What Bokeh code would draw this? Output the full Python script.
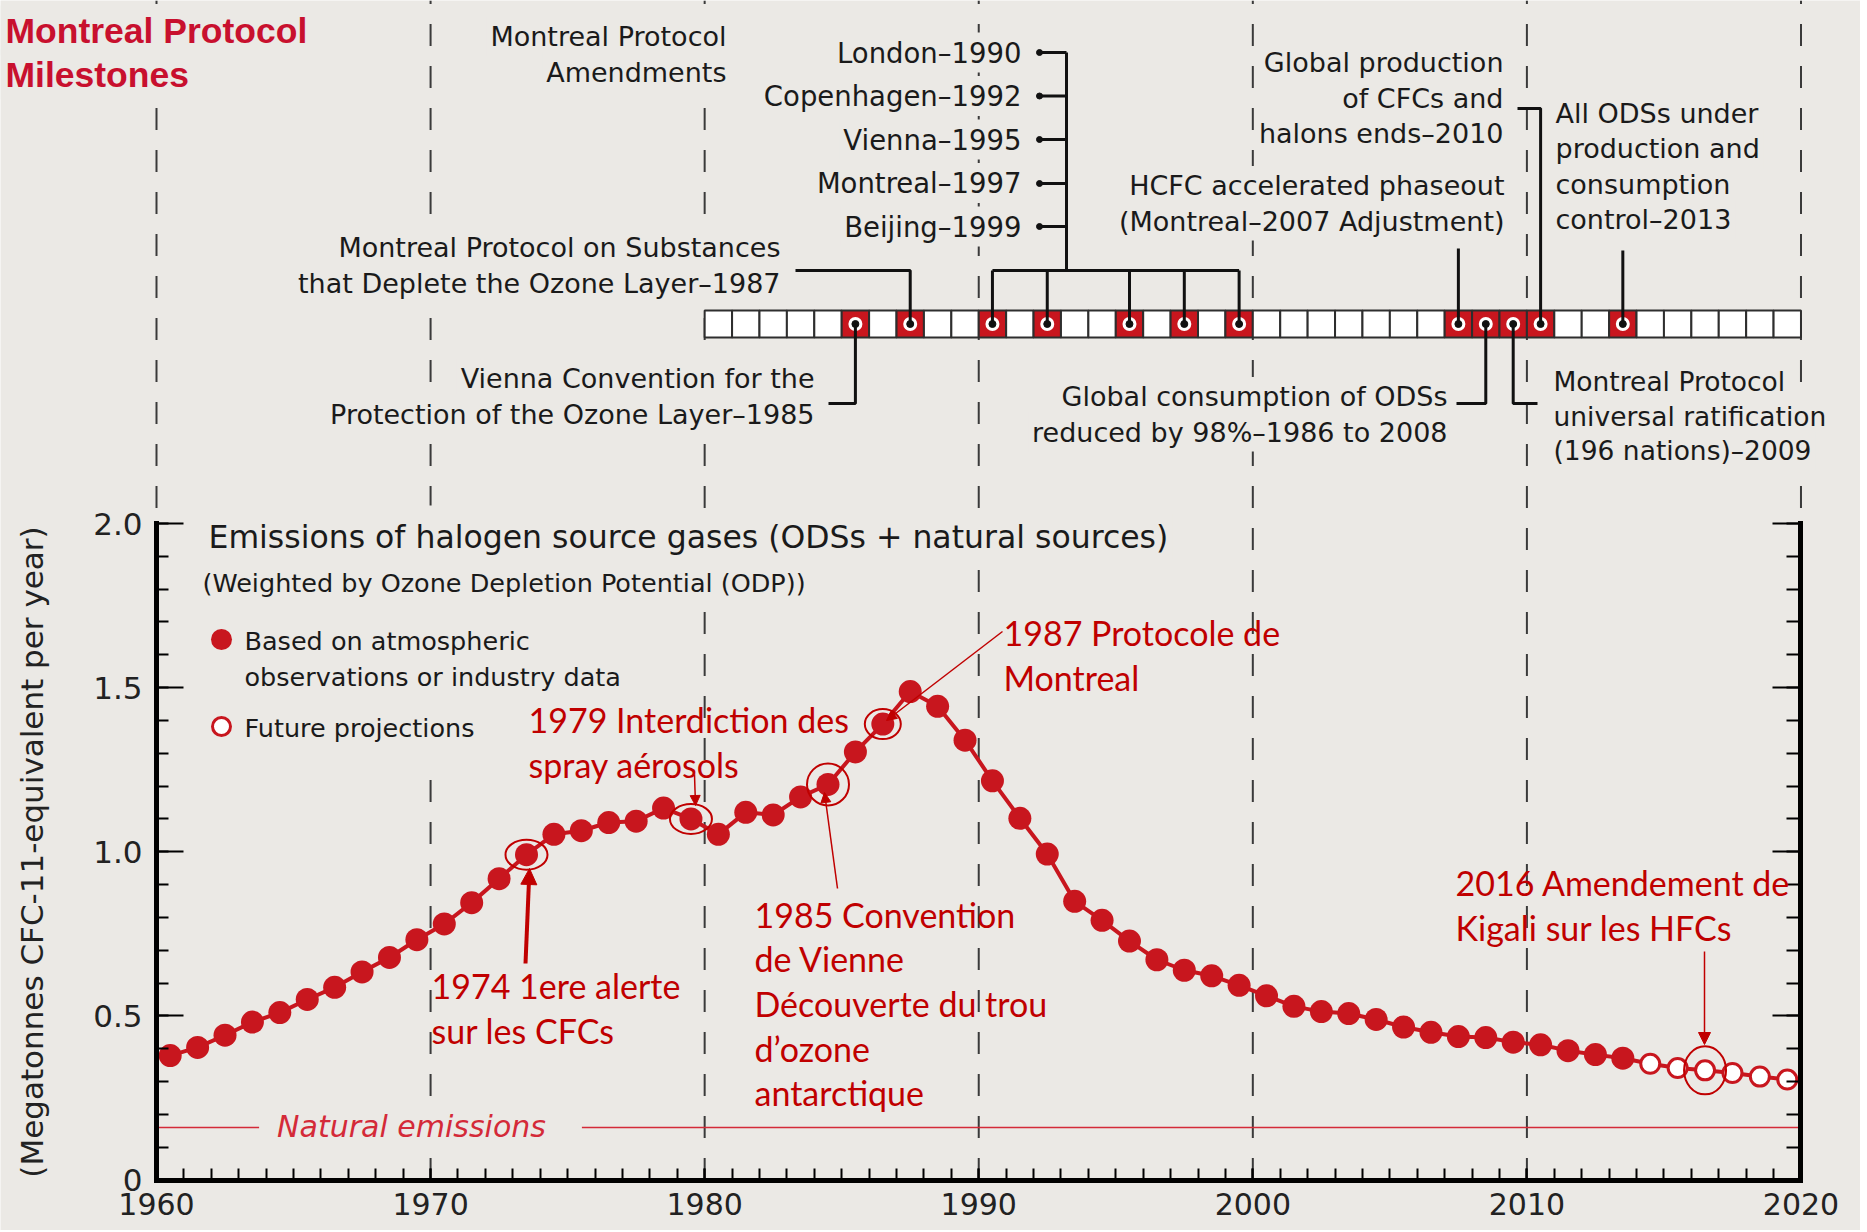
from bokeh.plotting import figure
from bokeh.models import (Range1d, LinearAxis, SingleIntervalTicker, Label, Arrow,
                          NormalHead, CustomJSTickFormatter, CustomLabelingPolicy)
from bokeh.embed import file_html
from bokeh.resources import INLINE

# ---------------- data ----------------
years = list(range(1960, 2020))
observed = [0.379, 0.404, 0.441, 0.481, 0.510, 0.550, 0.587, 0.634, 0.678, 0.732,
            0.780, 0.845, 0.918, 0.991, 1.053, 1.064, 1.089, 1.093, 1.133, 1.100,
            1.053, 1.120, 1.112, 1.167, 1.205, 1.304, 1.389, 1.488, 1.443, 1.340,
            1.216, 1.102, 0.993, 0.849, 0.791, 0.728, 0.671, 0.639, 0.622, 0.593,
            0.561, 0.529, 0.513, 0.507, 0.489, 0.466, 0.450, 0.437, 0.434, 0.420,
            0.412, 0.394, 0.382, 0.371]
projected = [0.354, 0.341, 0.334, 0.326, 0.315, 0.306]
natural_emissions = 0.16
decades = [1960, 1970, 1980, 1990, 2000, 2010, 2020]
timeline_years = list(range(1980, 2020))
milestone_years = [1985, 1987, 1990, 1992, 1995, 1997, 1999, 2007, 2008, 2009, 2010, 2013]
amendments = ["London\u20131990", "Copenhagen\u20131992", "Vienna\u20131995",
              "Montreal\u20131997", "Beijing\u20131999"]
amendment_years = [1990, 1992, 1995, 1997, 1999]
highlight_years = [1973, 1979, 1984, 1986, 2016]

# ---------------- styling / layout ----------------
BG = "#EBE9E5"
RED = "#C8161E"
ANN = "#C00000"
INK = "#1A1A1A"
W, H = 1860, 1230
PX_PER_YEAR = 27.408
PX_PER_UNIT = 328.25
X0 = 1960 - 156 / PX_PER_YEAR
X1 = X0 + W / PX_PER_YEAR
Y1 = 1179.5 / PX_PER_UNIT
Y0 = Y1 - H / PX_PER_UNIT


def fx(px):
    return X0 + px / PX_PER_YEAR


def fy(py):
    return Y1 - py / PX_PER_UNIT


p = figure(width=W, height=H, x_range=Range1d(X0, X1), y_range=Range1d(Y0, Y1),
           x_axis_type=None, y_axis_type=None, title=None, toolbar_location=None,
           output_backend="svg", min_border=0, background_fill_color=BG,
           border_fill_color=BG, outline_line_color=None)

# ---------------- axes ----------------
def style_axis(ax, tin, tmin, fs):
    ax.axis_line_width = 5
    ax.axis_line_color = "black"
    ax.axis_line_cap = "square"
    ax.major_tick_in = tin
    ax.major_tick_out = 0
    ax.minor_tick_in = tmin
    ax.minor_tick_out = 0
    ax.major_tick_line_width = 2
    ax.minor_tick_line_width = 2
    ax.major_tick_line_color = "black"
    ax.minor_tick_line_color = "black"
    ax.major_label_text_font = "DejaVu Sans"
    ax.major_label_text_font_size = fs
    ax.major_label_text_color = "#222222"


ytick = dict(interval=0.5, num_minor_ticks=5)
yl = LinearAxis(fixed_location=1960, bounds=(0, 2), ticker=SingleIntervalTicker(**ytick),
                formatter=CustomJSTickFormatter(code="return tick == 0 ? '0' : tick.toFixed(1);"),
                axis_label="(Megatonnes CFC-11-equivalent per year)")
style_axis(yl, 27, 12, "31px")
yl.major_label_standoff = 14
yl.axis_label_text_font = "DejaVu Sans"
yl.axis_label_text_font_size = "31px"
yl.axis_label_text_font_style = "normal"
yl.axis_label_text_color = "#222222"
yl.axis_label_standoff = 40
p.add_layout(yl, "left")

yr = LinearAxis(fixed_location=2020, bounds=(0, 2), ticker=SingleIntervalTicker(**ytick),
                major_label_policy=CustomLabelingPolicy(
                    code="for (let i = 0; i < indices.size; i++) { indices.unset(i) } return indices"))
style_axis(yr, 28, 14, "31px")
p.add_layout(yr, "right")

xb = LinearAxis(fixed_location=0, bounds=(1960, 2020),
                ticker=SingleIntervalTicker(interval=10, num_minor_ticks=10),
                formatter=CustomJSTickFormatter(code="return tick.toFixed(0);"))
style_axis(xb, 12, 12, "30px")
xb.major_label_standoff = 13
p.add_layout(xb, "below")

# ---------------- decade dashed lines ----------------
p.segment(x0=decades, x1=decades, y0=[0] * len(decades), y1=[Y1] * len(decades),
          line_color="#3A3A3A", line_width=2, line_dash="22 20")
# mask behind title / legend block
p.quad(left=[fx(195)], right=[fx(545)], top=[fy(505)], bottom=[fy(770)],
       fill_color=BG, line_color=None)

# natural emissions level
p.segment(x0=[1960], x1=[2020], y0=[natural_emissions], y1=[natural_emissions],
          line_color="#D42A38", line_width=1.5)

# ---------------- timeline bar ----------------
bar_top, bar_bot, bar_mid = fy(310), fy(337), fy(323.5)
cell_colors = [RED if y in milestone_years else "white" for y in timeline_years]
p.quad(left=timeline_years, right=[y + 1 for y in timeline_years],
       top=[bar_top] * len(timeline_years), bottom=[bar_bot] * len(timeline_years),
       fill_color=cell_colors, line_color="#2E2E2E", line_width=2)
mx = [y + 0.5 for y in milestone_years]
p.scatter(mx, [bar_mid] * len(mx), size=14, fill_color="white", line_color=None)

# leaders
xs, ys = [], []
def leader(pts):
    xs.append([q[0] for q in pts])
    ys.append([q[1] for q in pts])

leader([(1985.5, bar_mid), (1985.5, fy(403)), (fx(828), fy(403))])
leader([(1987.5, bar_mid), (1987.5, fy(270)), (fx(795), fy(270))])
for y in amendment_years:
    leader([(y + 0.5, bar_mid), (y + 0.5, fy(270))])
leader([(amendment_years[0] + 0.5, fy(270)), (amendment_years[-1] + 0.5, fy(270))])
rows = [52, 95.5, 139, 183, 226]
leader([(fx(1066), fy(270)), (fx(1066), fy(rows[0]))])
for r in rows:
    leader([(fx(1039), fy(r)), (fx(1066), fy(r))])
leader([(2007.5, bar_mid), (2007.5, fy(248))])
leader([(2008.5, bar_mid), (2008.5, fy(403)), (fx(1456), fy(403))])
leader([(2009.5, bar_mid), (2009.5, fy(403)), (fx(1537), fy(403))])
leader([(2010.5, bar_mid), (2010.5, fy(108)), (fx(1517), fy(108))])
leader([(2013.5, bar_mid), (2013.5, fy(250))])
p.multi_line(xs=xs, ys=ys, line_color="#111111", line_width=3)
p.scatter(mx, [bar_mid] * len(mx), size=7, color="#111111")
p.scatter([fx(1039)] * len(rows), [fy(r) for r in rows], size=6, color="#111111")

# ---------------- emissions series ----------------
x_obs = [y + 0.5 for y in years[:len(observed)]]
x_proj = [y + 0.5 for y in years[len(observed):]]
p.line(x_obs + x_proj, observed + projected, line_color=RED, line_width=4)
p.scatter(x_obs, observed, size=23, fill_color=RED, line_color=None)
p.scatter(x_proj, projected, size=19, fill_color="white", line_color=RED, line_width=3)

# legend swatches
p.scatter([fx(221)], [fy(639)], size=21, fill_color=RED, line_color=None)
p.scatter([fx(221)], [fy(726)], size=18, fill_color="white", line_color=RED, line_width=3)

# highlight ellipses around key years
all_vals = observed + projected
hx = [y + 0.5 for y in highlight_years]
hy = [all_vals[years.index(y)] for y in highlight_years]
p.ellipse(x=hx, y=hy, width=[42, 42, 42, 36, 42], height=[30, 30, 42, 30, 48],
          width_units="screen", height_units="screen",
          fill_color=None, line_color=ANN, line_width=2)

# ---------------- texts ----------------
def add_text(lines, px, py0, dy, align="left", color=INK, font="DejaVu Sans",
             size="27px", style="normal", bg=False, pad=3):
    for i, t in enumerate(lines):
        lab = Label(x=fx(px), y=fy(py0 + i * dy), text=t, text_align=align,
                    text_baseline="middle", text_color=color, text_font=font,
                    text_font_size=size, text_font_style=style)
        if bg:
            lab.background_fill_color = BG
            lab.padding = pad
        p.add_layout(lab)


add_text(["Montreal Protocol", "Milestones"], 0, 30, 44, color="#C8102E",
         font="Liberation Sans", size="35.5px", style="bold", bg=True, pad=5)
add_text(["Montreal Protocol", "Amendments"], 730, 36, 35.5, align="right", bg=True, pad=4)
add_text(amendments, 1025, rows[0], 43.5, align="right", size="27.5px", bg=True, pad=4)
add_text(["Montreal Protocol on Substances", "that Deplete the Ozone Layer\u20131987"],
         784, 247, 35.5, align="right", bg=True, pad=4)
add_text(["Vienna Convention for the", "Protection of the Ozone Layer\u20131985"],
         818, 378, 35.5, align="right", bg=True, pad=4)
add_text(["Global production", "of CFCs and", "halons ends\u20132010"],
         1507, 62, 35.7, align="right", bg=True, pad=4)
add_text(["HCFC accelerated phaseout", "(Montreal\u20132007 Adjustment)"],
         1508, 185, 35.5, align="right", bg=True, pad=4)
add_text(["All ODSs under", "production and", "consumption", "control\u20132013"],
         1551, 113, 35.4, bg=True, pad=4)
add_text(["Global consumption of ODSs", "reduced by 98%\u20131986 to 2008"],
         1451, 396, 35.5, align="right", bg=True, pad=4)
add_text(["Montreal Protocol", "universal ratification", "(196 nations)\u20132009"],
         1549, 381, 34.6, size="26.5px", bg=True, pad=4)

add_text(["Emissions of halogen source gases (ODSs + natural sources)"], 204, 536, 0,
         size="31.5px", bg=True, pad=4)
add_text(["(Weighted by Ozone Depletion Potential (ODP))"], 198, 582, 0,
         size="25.5px", bg=True, pad=4)
add_text(["Based on atmospheric", "observations or industry data"], 244, 640, 36,
         size="25.5px")
add_text(["Future projections"], 244, 727, 0, size="25.5px")

nat = Label(x=fx(420), y=fy(1126), text="Natural emissions", text_align="center",
            text_baseline="middle", text_color="#D42A38", text_font="DejaVu Sans",
            text_font_size="30px", text_font_style="italic", background_fill_color=BG,
            padding=dict(left=18, right=36, top=6, bottom=6))
p.add_layout(nat)

# red French annotations
add_text(["1974 1ere alerte", "sur les CFCs"], 431, 985, 45, color=ANN, font="Lato", size="34px")
add_text(["1979 Interdiction des", "spray a\u00e9rosols"], 528, 719, 45, color=ANN,
         font="Lato", size="34px")
add_text(["1985 Convention", "de Vienne", "D\u00e9couverte du trou", "d\u2019ozone",
          "antarctique"], 754, 913.5, 44.7, color=ANN, font="Lato", size="34px")
add_text(["1987 Protocole de", "Montreal"], 1003, 632, 44.5, color=ANN, font="Lato", size="34px")
add_text(["2016 Amendement de", "Kigali sur les HFCs"], 1455, 882, 45.4, color=ANN,
         font="Lato", size="34px")

# arrows
def arrow(p0, p1, width, head):
    p.add_layout(Arrow(end=NormalHead(size=head, fill_color=ANN, line_color=ANN, line_width=1),
                       x_start=fx(p0[0]), y_start=fy(p0[1]), x_end=fx(p1[0]), y_end=fy(p1[1]),
                       line_color=ANN, line_width=width))


arrow((525, 963), (529, 868), 4, 16)
arrow((694, 774), (695, 805), 1.5, 10)
arrow((837, 888), (824, 792), 1.5, 10)
arrow((1002, 631), (886, 720), 1.5, 10)
arrow((1704, 951), (1704, 1044), 1.5, 12)

open("out.html", "w").write(file_html(p, INLINE))
